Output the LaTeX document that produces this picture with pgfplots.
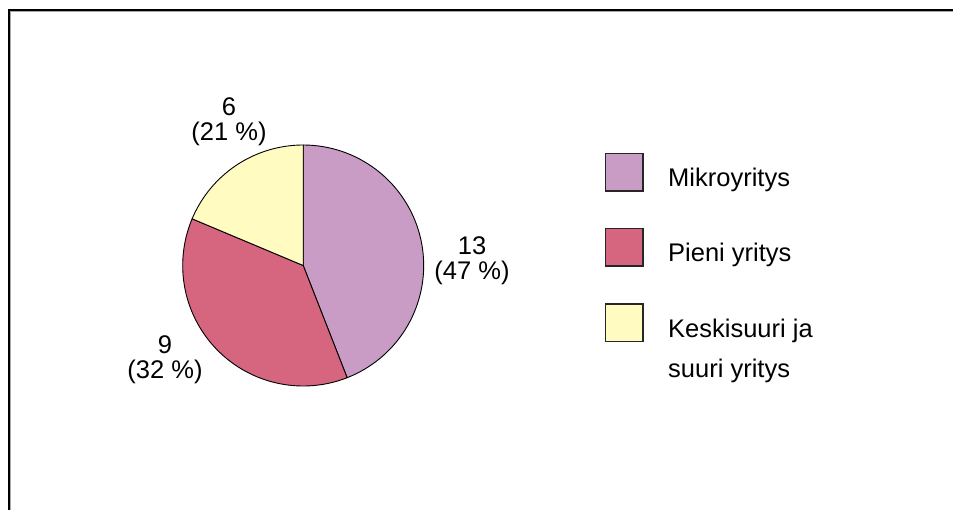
\documentclass[border=0pt]{standalone}
\usepackage{pgfplots}
\pgfplotsset{compat=1.18}
\usepackage{fontspec}
\setmainfont{Liberation Sans}
\definecolor{mikro}{HTML}{C89CC4}
\definecolor{pieni}{HTML}{D6657F}
\definecolor{keski}{HTML}{FFFBC1}
\definecolor{shadow}{HTML}{A8A8A8}
\newcommand{\lab}{\fontsize{25.5bp}{30bp}\selectfont}
% slices: value, share drawn (degrees, clockwise from 12 o'clock)
% Mikroyritys 13 (47 %) : 158.6 deg
% Pieni yritys 9 (32 %) : 134.2 deg
% Keskisuuri ja suuri yritys 6 (21 %) : 67.2 deg
\def\cx{303.2}
\def\cy{265.5}
\def\r{120.5}
\begin{document}
\begin{tikzpicture}
\path[use as bounding box] (0,0) rectangle (953bp,510bp);
\begin{axis}[
  at={(476.5bp,255bp)}, anchor=center,
  scale only axis, width=953bp, height=510bp,
  xmin=0, xmax=953, ymin=0, ymax=510, y dir=reverse,
  hide axis, clip=false,
]
% frame
\draw[shadow, line width=1.2bp] (9,11.6) -- (953,11.6);
\draw[shadow, line width=1.2bp] (10.6,11) -- (10.6,510);
\draw[black, line width=2bp] (8,10) -- (953,10);
\draw[black, line width=2bp] (9,9) -- (9,510);
% pie
\addplot[fill=mikro, draw=black, line width=0.9bp, domain=-68.6:90, samples=90]
  ({\cx+\r*cos(x)}, {\cy-\r*sin(x)}) -- (\cx,\cy) -- cycle;
\addplot[fill=pieni, draw=black, line width=0.9bp, domain=-202.8:-68.6, samples=90]
  ({\cx+\r*cos(x)}, {\cy-\r*sin(x)}) -- (\cx,\cy) -- cycle;
\addplot[fill=keski, draw=black, line width=0.9bp, domain=-270:-202.8, samples=60]
  ({\cx+\r*cos(x)}, {\cy-\r*sin(x)}) -- (\cx,\cy) -- cycle;
% slice labels
\node[anchor=base, font=\lab, inner sep=0pt] at (229,115.5) {6};
\node[anchor=base, font=\lab, inner sep=0pt] at (229,140.5) {(21 \%)};
\node[anchor=base, font=\lab, inner sep=0pt] at (472,254) {13};
\node[anchor=base, font=\lab, inner sep=0pt] at (472,279) {(47 \%)};
\node[anchor=base, font=\lab, inner sep=0pt] at (165,353.3) {9};
\node[anchor=base, font=\lab, inner sep=0pt] at (165,378.3) {(32 \%)};
% legend
\draw[fill=mikro, draw=black!85, line width=1.3bp] (605.5,153.5) rectangle (643,191);
\draw[fill=pieni, draw=black!85, line width=1.3bp] (605.5,228.5) rectangle (643,266);
\draw[fill=keski, draw=black!85, line width=1.3bp] (605.5,304) rectangle (643,341.5);
\node[anchor=base west, font=\lab, inner sep=0pt] at (668,186) {Mikroyritys};
\node[anchor=base west, font=\lab, inner sep=0pt] at (668,261.5) {Pieni yritys};
\node[anchor=base west, font=\lab, inner sep=0pt] at (668,337.3) {Keskisuuri ja};
\node[anchor=base west, font=\lab, inner sep=0pt] at (668,377.3) {suuri yritys};
\end{axis}
\end{tikzpicture}
\end{document}
